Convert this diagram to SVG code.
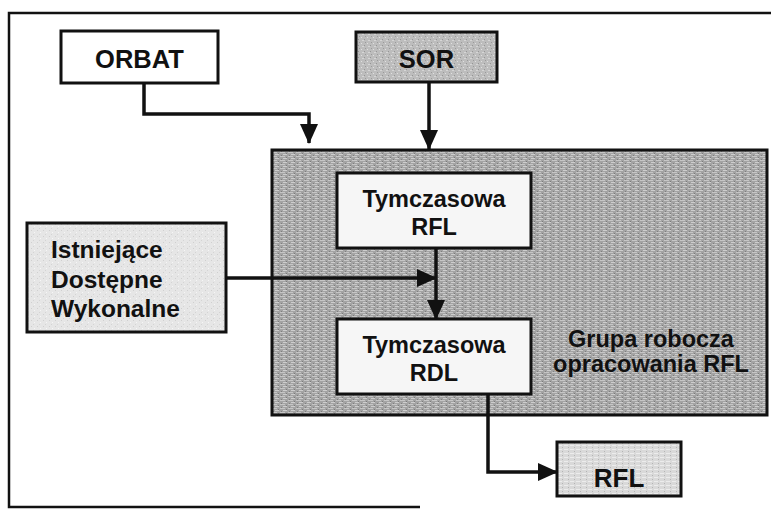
<svg xmlns="http://www.w3.org/2000/svg" width="771" height="510" viewBox="0 0 771 510">
  <defs>
    <style>
      .box { stroke: #111; stroke-width: 3; }
      .lbl { font-family: "Liberation Sans", Arial, sans-serif; font-weight: bold; fill: #111; text-anchor: middle; }
      .lft { font-family: "Liberation Sans", Arial, sans-serif; font-weight: bold; fill: #111; }
      .conn { fill: none; stroke: #111; stroke-width: 3.5; }
    </style>
    <pattern id="patGroup" width="8" height="4" patternUnits="userSpaceOnUse">
      <rect width="8" height="4" fill="#a3a3a3"/>
      <rect x="0" y="0" width="5" height="1" fill="#c6c6c6"/>
      <rect x="3" y="2" width="4" height="1" fill="#cdcdcd"/>
      <rect x="6" y="1" width="1" height="1" fill="#7a7a7a"/>
      <rect x="1" y="3" width="1" height="1" fill="#7e7e7e"/>
    </pattern>
    <pattern id="patSor" width="6" height="6" patternUnits="userSpaceOnUse">
      <rect width="6" height="6" fill="#bdbdbd"/>
      <rect x="1" y="1" width="1" height="1" fill="#e0e0e0"/>
      <rect x="4" y="3" width="1" height="1" fill="#959595"/>
      <rect x="2" y="4" width="2" height="1" fill="#d6d6d6"/>
      <rect x="5" y="0" width="1" height="1" fill="#9a9a9a"/>
    </pattern>
    <pattern id="patLight" width="6" height="6" patternUnits="userSpaceOnUse">
      <rect width="6" height="6" fill="#e6e6e6"/>
      <rect x="1" y="2" width="1" height="1" fill="#cfcfcf"/>
      <rect x="4" y="4" width="1" height="1" fill="#f6f6f6"/>
      <rect x="3" y="0" width="1" height="1" fill="#d4d4d4"/>
    </pattern>
    <pattern id="patRfl" width="6" height="4" patternUnits="userSpaceOnUse">
      <rect width="6" height="4" fill="#d9d9d9"/>
      <rect x="0" y="1" width="4" height="1" fill="#ececec"/>
      <rect x="4" y="3" width="1" height="1" fill="#b4b4b4"/>
    </pattern>
    <marker id="arr" markerUnits="userSpaceOnUse" markerWidth="20" markerHeight="18" refX="19" refY="9" orient="auto">
      <path d="M0,0 L20,9 L0,18 Z" fill="#111"/>
    </marker>
  </defs>

  <rect width="771" height="510" fill="#ffffff"/>

  <g id="frame">
    <path d="M771,13 H9 V507 H420" fill="none" stroke="#111" stroke-width="2.5"/>
  </g>

  <g id="grupa">
    <rect class="box" x="272" y="150" width="495" height="265" fill="url(#patGroup)"/>
    <text class="lbl" x="651" y="347" font-size="23.5">Grupa robocza</text>
    <text class="lbl" x="651" y="372" font-size="23.5">opracowania RFL</text>
  </g>

  <g id="orbat">
    <rect class="box" x="61" y="31" width="157" height="52" fill="#ffffff"/>
    <text class="lbl" x="139.5" y="68" font-size="25.5">ORBAT</text>
  </g>

  <g id="sor">
    <rect class="box" x="356" y="32" width="141" height="50" fill="url(#patSor)"/>
    <text class="lbl" x="426.5" y="68" font-size="25.5">SOR</text>
  </g>

  <g id="istniejace">
    <rect class="box" x="27" y="223" width="199" height="109" fill="url(#patLight)"/>
    <text class="lft" font-size="24.5" x="51" y="258">Istniejące</text>
    <text class="lft" font-size="24.5" x="51" y="288">Dostępne</text>
    <text class="lft" font-size="24.5" x="51" y="317">Wykonalne</text>
  </g>

  <g id="tymczasowa-rfl">
    <rect class="box" x="337" y="173" width="194" height="75" fill="#f6f6f6"/>
    <text class="lbl" x="434" y="207" font-size="23.5">Tymczasowa</text>
    <text class="lbl" x="434" y="235" font-size="23.5">RFL</text>
  </g>

  <g id="tymczasowa-rdl">
    <rect class="box" x="337" y="319" width="194" height="75" fill="#f6f6f6"/>
    <text class="lbl" x="434" y="353" font-size="23.5">Tymczasowa</text>
    <text class="lbl" x="434" y="381" font-size="23.5">RDL</text>
  </g>

  <g id="rfl">
    <rect class="box" x="557" y="442" width="124" height="54" fill="url(#patRfl)"/>
    <text class="lbl" x="619" y="487" font-size="26">RFL</text>
  </g>

  <g id="connectors">
    <path class="conn" d="M144,83 V114 H309 V143" marker-end="url(#arr)"/>
    <path class="conn" d="M429,82 V149" marker-end="url(#arr)"/>
    <path class="conn" d="M226,278 H436" marker-end="url(#arr)"/>
    <path class="conn" d="M436,248 V319" marker-end="url(#arr)"/>
    <path class="conn" d="M488,394 V472 H557" marker-end="url(#arr)"/>
  </g>
</svg>
